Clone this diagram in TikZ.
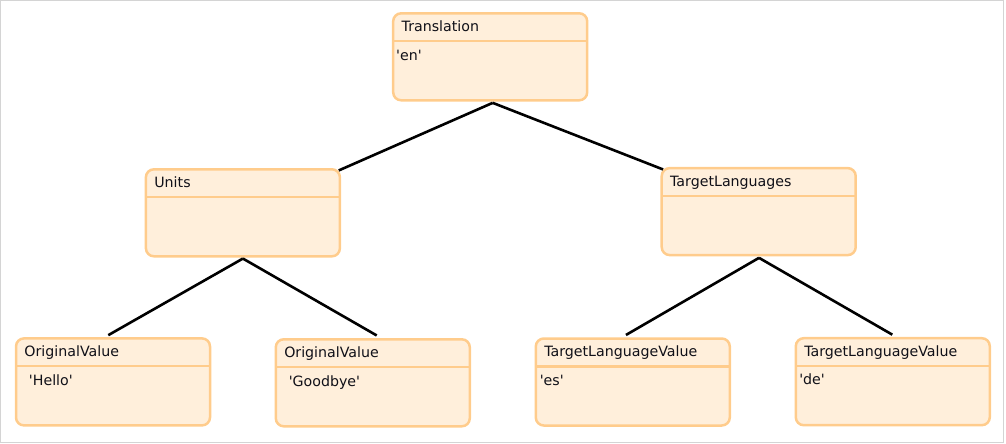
\documentclass[tikz,border=0pt]{standalone}
\usepackage{fontspec}
\setmainfont{DejaVu Sans}
\usetikzlibrary{calc}
\definecolor{boxfill}{HTML}{FFEFDB}
\definecolor{boxline}{HTML}{FFCC8C}
\definecolor{frame}{HTML}{D4D4D4}
\definecolor{txt}{HTML}{101018}
\tikzset{
  classbox/.style={rectangle, rounded corners=8pt, draw=boxline, fill=boxfill,
    line width=2.5pt, minimum width=194pt, minimum height=87pt, inner sep=0pt},
  divider/.style={draw=boxline, line width=2.5pt},
  lbl/.style={anchor=base west, inner sep=0pt, text=txt, font=\fontsize{14.2}{16}\selectfont},
  edge/.style={draw=black, line width=2.6pt}
}
\newcommand\q{\textquotesingle}
\newcommand\mybox[5]{%
  \node[classbox] (#1) at (#2) {};
  \draw[divider] ($(#1.north west)+(1.25,29)$) -- ($(#1.north east)+(-1.25,29)$);
  \node[lbl] (#1-t) at ($(#1.north west)+(9.5,19.5)$) {#3};
  \node[lbl] (#1-v) at ($(#1.north west)+(#5,48)$) {#4};
}
\begin{document}
\begin{tikzpicture}[x=1pt,y=-1pt]
\useasboundingbox (0,0) rectangle (1006,444);
\draw[frame, line width=1pt] (0.5,0.5) rectangle (1003.5,442.5);

\mybox{tr}{490.2,56.8}{Translation}{\q en\q}{4}
\mybox{units}{242.9,212.8}{Units}{}{4}
\mybox{tl}{758.7,211.6}{TargetLanguages}{}{4}
\mybox{ov1}{113,381.9}{OriginalValue}{\q Hello\q}{14}
\mybox{ov2}{372.8,382.8}{OriginalValue}{\q Goodbye\q}{14}
\mybox{tlv1}{632.8,382}{TargetLanguageValue}{\q es\q}{5}
\mybox{tlv2}{892.8,381.7}{TargetLanguageValue}{\q de\q}{4.5}

\coordinate (trapex) at ($(tr.south)+(2.5,1.3)$);
\coordinate (unapex) at ($(units.south)+(0,1)$);
\coordinate (tlapex) at ($(tl.south)+(0.3,1.5)$);
\draw[edge] (trapex) -- ($(units.north east)+(-2.4,2.4)$);
\draw[edge] (trapex) -- ($(tl.north west)+(2.6,2.6)$);
\draw[edge] (unapex) -- ($(ov1.north)+(-4.7,-2)$);
\draw[edge] (unapex) -- ($(ov2.north)+(3.9,-2.6)$);
\draw[edge] (tlapex) -- ($(tlv1.north)+(-6.8,-2.3)$);
\draw[edge] (tlapex) -- ($(tlv2.north)+(-0.5,-2.3)$);
\end{tikzpicture}
\end{document}
